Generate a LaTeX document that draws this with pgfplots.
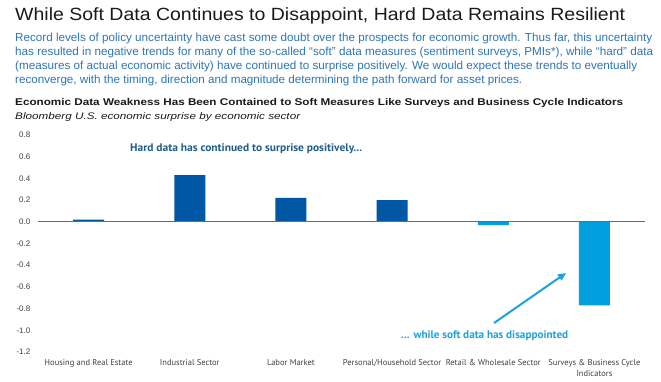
\documentclass[border=0pt]{standalone}
\usepackage{pgfplots}
\pgfplotsset{compat=1.18}
\usepackage{graphicx}
\usepackage{fontspec}
\setmainfont{Liberation Sans}
\newfontfamily\ptsans{PT Sans}
\usetikzlibrary{arrows.meta}
\definecolor{darkbar}{HTML}{0057A3}
\definecolor{lightbar}{HTML}{00A0DF}
\definecolor{paraBlue}{HTML}{2E75B6}
\definecolor{hardText}{HTML}{1F5E8C}
\definecolor{softText}{HTML}{1BA3DC}
\definecolor{tickgray}{HTML}{404040}
\definecolor{titleblack}{HTML}{1A1A1A}

\pgfplotstableread{
x y
0 0.02
1 0.43
2 0.22
3 0.20
}\harddata
\pgfplotstableread{
x y
4 -0.03
5 -0.77
}\softdata

\begin{document}
\begin{tikzpicture}[x=1pt,y=1pt]
\useasboundingbox (0,-381) rectangle (661,0);
\fill[white] (0,-381) rectangle (661,0);
% title
\node[anchor=base west,inner sep=0,text=titleblack] at (15,-20)
  {\resizebox{610pt}{\height}{\fontsize{17.7}{20}\selectfont While Soft Data Continues to Disappoint, Hard Data Remains Resilient}};
% paragraph
\begin{scope}[every node/.style={anchor=base west,inner sep=0,text=paraBlue}]
\node at (15,-41) {\resizebox{637pt}{\height}{\fontsize{11.6}{13}\selectfont Record levels of policy uncertainty have cast some doubt over the prospects for economic growth. Thus far, this uncertainty}};
\node at (15,-55) {\resizebox{638pt}{\height}{\fontsize{11.6}{13}\selectfont has resulted in negative trends for many of the so-called \textquotedblleft soft\textquotedblright\ data measures (sentiment surveys, PMIs*), while \textquotedblleft hard\textquotedblright\ data}};
\node at (15,-69) {\resizebox{622pt}{\height}{\fontsize{11.6}{13}\selectfont (measures of actual economic activity) have continued to surprise positively. We would expect these trends to eventually}};
\node at (15,-83) {\resizebox{507pt}{\height}{\fontsize{11.6}{13}\selectfont reconverge, with the timing, direction and magnitude determining the path forward for asset prices.}};
\end{scope}
% chart title
\node[anchor=base west,inner sep=0,text=titleblack] at (15,-105)
  {\resizebox{608pt}{\height}{\fontsize{9.8}{11}\selectfont\bfseries Economic Data Weakness Has Been Contained to Soft Measures Like Surveys and Business Cycle Indicators}};
\node[anchor=base west,inner sep=0,text=titleblack] at (15,-119)
  {\resizebox{285pt}{\height}{\fontsize{9.5}{11}\selectfont\itshape Bloomberg U.S. economic surprise by economic sector}};

\begin{axis}[
  at={(38pt,-352pt)}, anchor=south west,
  scale only axis, width=607pt, height=217pt,
  xmin=-0.5, xmax=5.5, ymin=-1.2, ymax=0.8,
  axis line style={draw=none},
  major tick length=0pt,
  xtick={0,1,2,3,4,5},
  xticklabels={Housing and Real Estate, Industrial Sector, Labor Market, Personal/Household Sector, Retail \& Wholesale Sector, {Surveys \& Business Cycle\\Indicators}},
  xticklabel style={font=\ptsans\fontsize{8.5}{11}\selectfont, text=tickgray, align=center, anchor=north, inner sep=0pt, yshift=-7pt},
  ytick={-1.2,-1,-0.8,-0.6,-0.4,-0.2,0,0.2,0.4,0.6,0.8},
  yticklabels={-1.2,-1.0,-0.8,-0.6,-0.4,-0.2,0.0,0.2,0.4,0.6,0.8},
  yticklabel style={font=\fontsize{8}{9}\selectfont, text=tickgray, anchor=east, inner sep=0pt, xshift=-7.5pt},
  ybar, bar width=31pt, bar shift=0pt,
  clip=false,
]
\addplot[fill=darkbar, draw=none] table[x=x,y=y] {\harddata};
\addplot[fill=lightbar, draw=none] table[x=x,y=y] {\softdata};
\draw[color=gray!85!black, line width=0.9pt] (axis cs:-0.5,0) -- (axis cs:5.5,0);
\end{axis}

% annotations
\node[anchor=base west,inner sep=0,text=hardText] at (130,-151)
  {\resizebox{232pt}{\height}{\ptsans\bfseries\fontsize{11}{12}\selectfont Hard data has continued to surprise positively...}};
\node[anchor=base west,inner sep=0,text=softText] at (401,-338)
  {\resizebox{167pt}{\height}{\ptsans\bfseries\fontsize{11}{12}\selectfont ... while soft data has disappointed}};
\draw[softText, line width=2pt, -{Triangle[length=8pt,width=7pt]}] (494,-323) -- (566,-273);
\end{tikzpicture}
\end{document}
